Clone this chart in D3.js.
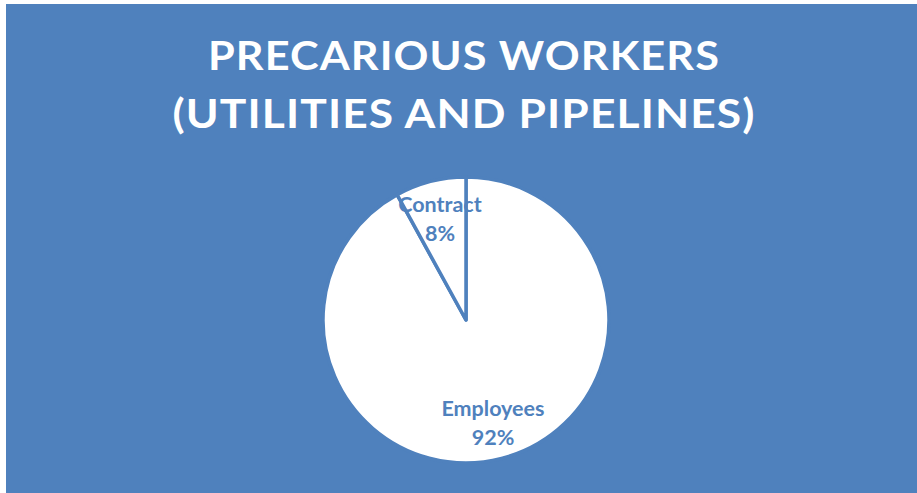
<!DOCTYPE html>
<html>
<head>
<meta charset="utf-8">
<script src="https://cdn.jsdelivr.net/npm/d3@7/dist/d3.min.js"></script>
<style>
  html, body { margin: 0; padding: 0; background: #ffffff; }
  svg { display: block; }
</style>
</head>
<body>
<svg id="chart" width="917" height="493"></svg>
<script>
// Workforce split, utilities and pipelines
const categories = ["Employees", "Contract"];
const shares = [92, 8];
const titleLines = ["PRECARIOUS WORKERS", "(UTILITIES AND PIPELINES)"];

const W = 917, H = 493;
const blue = "#4F81BD";
const svg = d3.select("#chart");

// chart area background
svg.append("rect")
  .attr("x", 6).attr("y", 4)
  .attr("width", W - 6).attr("height", H - 4)
  .attr("fill", blue);

// title
const titleSpecs = [
  { text: titleLines[0], y: 70, len: 512 },
  { text: titleLines[1], y: 128, len: 583 }
];
svg.selectAll("text.title")
  .data(titleSpecs)
  .join("text")
  .attr("class", "title")
  .attr("x", 464)
  .attr("y", d => d.y)
  .attr("text-anchor", "middle")
  .attr("font-family", "Lato, 'Open Sans', sans-serif")
  .attr("font-weight", "bold")
  .attr("font-size", 40)
  .attr("letter-spacing", 1)
  .attr("fill", "#ffffff")
  .attr("textLength", d => d.len)
  .attr("lengthAdjust", "spacingAndGlyphs")
  .text(d => d.text);

// pie
const cx = 466, cy = 320, r = 143;
const data = categories.map((c, i) => ({ name: c, value: shares[i] }));
const pie = d3.pie().value(d => d.value).sort(null);
const arc = d3.arc().innerRadius(0).outerRadius(r);
const arcs = pie(data);

const g = svg.append("g").attr("transform", `translate(${cx},${cy})`);
g.selectAll("path")
  .data(arcs)
  .join("path")
  .attr("d", arc)
  .attr("fill", "#ffffff")
  .attr("stroke", blue)
  .attr("stroke-width", 3.5)
  .attr("stroke-linejoin", "round");

// slice labels
const labelPos = {
  Employees: { x: 493, y: 416 },
  Contract: { x: 440, y: 212 }
};
arcs.forEach(a => {
  const p = labelPos[a.data.name];
  const t = svg.append("text")
    .attr("text-anchor", "middle")
    .attr("font-family", "Lato, 'Open Sans', sans-serif")
    .attr("font-weight", "bold")
    .attr("font-size", 21.5)
    .attr("fill", blue);
  t.append("tspan").attr("x", p.x).attr("y", p.y).text(a.data.name);
  t.append("tspan").attr("x", p.x).attr("y", p.y + 29).text(a.data.value + "%");
});
</script>
</body>
</html>
